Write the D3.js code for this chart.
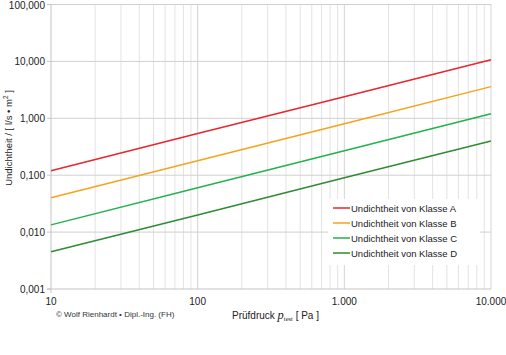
<!DOCTYPE html>
<html>
<head>
<meta charset="utf-8">
<script src="https://cdn.jsdelivr.net/npm/d3@7"></script>
<style>
  body { margin: 0; background: #fff; }
  svg { display: block; font-family: "Liberation Sans", Arial, sans-serif; }
</style>
</head>
<body>
<div id="canvas"></div>
<script>
const pressures = [10, 100, 1000, 10000];
// Leakage per class, l/(s*m²).
const classA = [0.12, 0.54, 2.4, 10.7];
const classB = [0.04, 0.18, 0.80, 3.6];
const classC = [0.0134, 0.06, 0.27, 1.2];
const classD = [0.0045, 0.02, 0.09, 0.4];
const seriesNames = ["Undichtheit von Klasse A", "Undichtheit von Klasse B",
                     "Undichtheit von Klasse C", "Undichtheit von Klasse D"];
const seriesColors = ["#e8262d", "#f7a21b", "#22b24c", "#2f8a32"];
// Tick values and labels as printed on the chart (decimal comma).
const yTicks = [0.001, 0.01, 0.1, 1, 10, 100];
const yTickLabels = ["0,001", "0,010", "0,100", "1,000", "10,000", "100,000"];
const xTickLabels = ["10", "100", "1.000", "10.000"];

const w = 506, h = 355;
const mLeft = 51, mRight = 491, mTop = 4.5, mBottom = 289;

const svg = d3.select("#canvas").append("svg")
    .attr("width", w).attr("height", h);

const x = d3.scaleLog().domain([10, 10000]).range([mLeft, mRight]);
const y = d3.scaleLog().domain([0.001, 100]).range([mBottom, mTop]);

// Minor vertical grid (2..9 in each decade).
const minor = [];
[10, 100, 1000].forEach(d => { for (let k = 2; k <= 9; k++) minor.push(d * k); });
svg.append("g").selectAll("line").data(minor).enter().append("line")
    .attr("x1", d => x(d)).attr("x2", d => x(d))
    .attr("y1", mTop).attr("y2", mBottom)
    .attr("stroke", "#e3e3e3").attr("stroke-width", 1);

// Decade vertical lines.
svg.append("g").selectAll("line").data([100, 1000, 10000]).enter().append("line")
    .attr("x1", d => x(d)).attr("x2", d => x(d))
    .attr("y1", mTop).attr("y2", mBottom)
    .attr("stroke", "#d4d4d4").attr("stroke-width", 1);

// Horizontal decade grid.
svg.append("g").selectAll("line").data(yTicks.slice(1)).enter().append("line")
    .attr("x1", mLeft).attr("x2", mRight)
    .attr("y1", d => y(d)).attr("y2", d => y(d))
    .attr("stroke", "#d0d0d0").attr("stroke-width", 1);

// Axis lines.
svg.append("line").attr("x1", mLeft).attr("x2", mLeft).attr("y1", mTop).attr("y2", mBottom + 4)
    .attr("stroke", "#c4c4c4");
svg.append("line").attr("x1", mLeft - 4).attr("x2", mRight).attr("y1", mBottom).attr("y2", mBottom)
    .attr("stroke", "#c4c4c4");
// Small tick marks on the left.
svg.append("g").selectAll("line").data(yTicks).enter().append("line")
    .attr("x1", mLeft - 4).attr("x2", mLeft)
    .attr("y1", d => y(d)).attr("y2", d => y(d))
    .attr("stroke", "#c4c4c4");

// Y tick labels.
svg.append("g").selectAll("text").data(yTicks).enter().append("text")
    .attr("x", mLeft - 6).attr("y", d => y(d) + 4)
    .attr("text-anchor", "end").attr("font-size", 10).attr("fill", "#222")
    .text((d, i) => yTickLabels[i]);

// X tick labels.
svg.append("g").selectAll("text").data(pressures).enter().append("text")
    .attr("x", d => x(d)).attr("y", mBottom + 16)
    .attr("text-anchor", "middle").attr("font-size", 10).attr("fill", "#222")
    .text((d, i) => xTickLabels[i]);

// Lines.
const all = [classA, classB, classC, classD];
const line = d3.line().x((d, i) => x(pressures[i])).y(d => y(d));
svg.append("g").selectAll("path").data(all).enter().append("path")
    .attr("d", line).attr("fill", "none")
    .attr("stroke", (d, i) => seriesColors[i]).attr("stroke-width", 1.5);

// Legend box.
const lx = 328, ly = 199;
svg.append("rect").attr("x", lx).attr("y", ly).attr("width", 152).attr("height", 66)
    .attr("fill", "#fff");
const leg = svg.append("g").selectAll("g").data(seriesNames).enter().append("g")
    .attr("transform", (d, i) => `translate(${lx + 5},${ly + 9 + i * 15})`);
leg.append("line").attr("x1", 0).attr("x2", 17).attr("y1", 0).attr("y2", 0)
    .attr("stroke", (d, i) => seriesColors[i]).attr("stroke-width", 1.5);
leg.append("text").attr("x", 18).attr("y", 3.5).attr("font-size", 9.5).attr("fill", "#222")
    .text(d => d);

// Axis titles.
const yt = svg.append("text").attr("transform", "translate(12,138) rotate(-90)")
    .attr("text-anchor", "middle").attr("font-size", 9.5).attr("fill", "#222");
yt.append("tspan").text("Undichtheit / [ l/s • m");
yt.append("tspan").attr("font-size", 6.5).attr("dy", -4).text("2");
yt.append("tspan").attr("dy", 4).text(" ]");

const xt = svg.append("text").attr("x", 232).attr("y", 319)
    .attr("font-size", 10).attr("fill", "#222");
xt.append("tspan").text("Prüfdruck ");
xt.append("tspan").attr("font-family", "Liberation Serif, serif").attr("font-style", "italic")
    .attr("font-size", 12.5).text("p");
xt.append("tspan").attr("font-family", "Liberation Serif, serif").attr("font-size", 6.5)
    .attr("dy", 2).text("test");
xt.append("tspan").attr("dy", -2).text(" [ Pa ]");

svg.append("text").attr("x", 56).attr("y", 317).attr("font-size", 8).attr("fill", "#333")
    .text("© Wolf Rienhardt • Dipl.-Ing. (FH)");
</script>
</body>
</html>
